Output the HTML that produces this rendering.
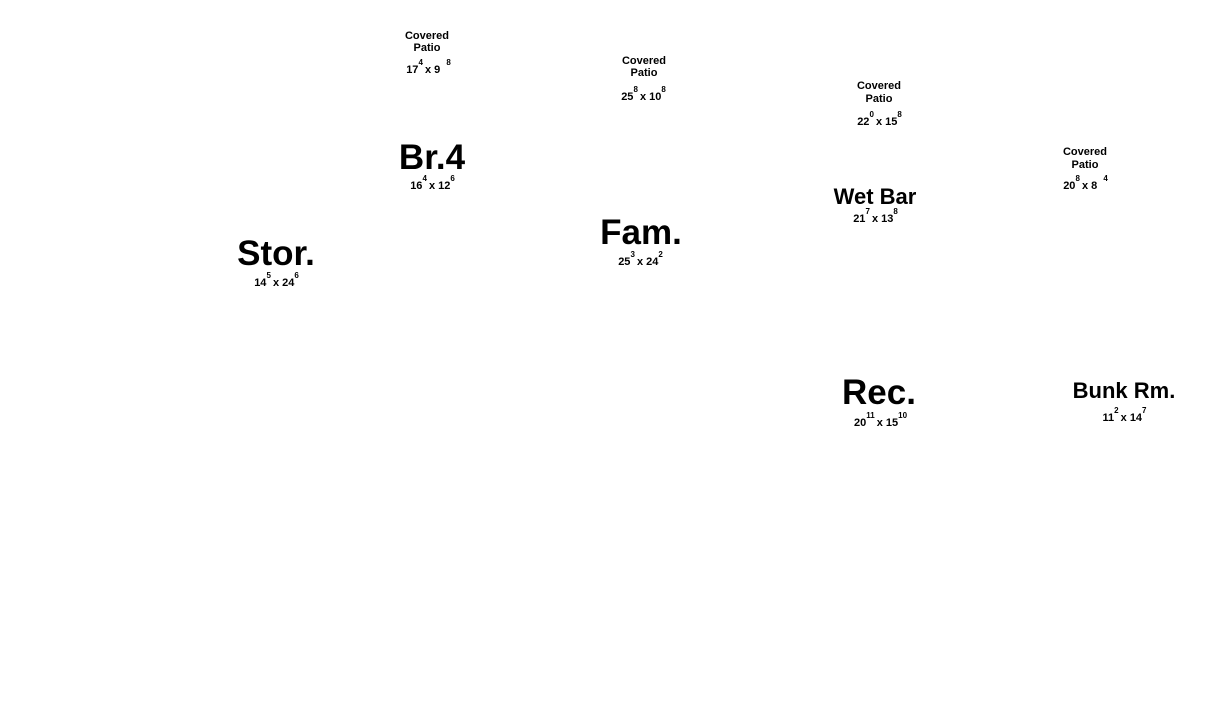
<!DOCTYPE html>
<html><head><meta charset="utf-8"><style>
body{margin:0;width:1223px;height:726px;background:#fff;position:relative;overflow:hidden;font-family:"Liberation Sans",Arial,sans-serif;font-weight:bold;color:#000}
.l{position:absolute;transform:translateX(-50%);white-space:nowrap;line-height:1;text-align:center}
.s{font-size:11px}
.d{font-size:11px;}
.d i{font-style:normal;font-size:8px;position:relative;top:-8px;margin-right:-1px}
.b{font-size:35px}
.m{font-size:22px}
</style></head><body>
<div class="l s" style="left:427px;top:31px">Covered</div>
<div class="l s" style="left:427px;top:43px">Patio</div>
<div class="l d" style="left:428px;top:65px">17<i>4</i> x 9 &nbsp;<i>8</i></div>

<div class="l s" style="left:644px;top:56px">Covered</div>
<div class="l s" style="left:644px;top:68px">Patio</div>
<div class="l d" style="left:643px;top:92px">25<i>8</i> x 10<i>8</i></div>

<div class="l s" style="left:879px;top:81px">Covered</div>
<div class="l s" style="left:879px;top:94px">Patio</div>
<div class="l d" style="left:879px;top:117px">22<i>0</i> x 15<i>8</i></div>

<div class="l s" style="left:1085px;top:147px">Covered</div>
<div class="l s" style="left:1085px;top:160px">Patio</div>
<div class="l d" style="left:1085px;top:181px">20<i>8</i> x 8 &nbsp;<i>4</i></div>

<div class="l b" style="left:432px;top:140px">Br.4</div>
<div class="l d" style="left:432px;top:181px">16<i>4</i> x 12<i>6</i></div>

<div class="l b" style="left:641px;top:215px">Fam.</div>
<div class="l d" style="left:640px;top:257px">25<i>3</i> x 24<i>2</i></div>

<div class="l b" style="left:276px;top:236px">Stor.</div>
<div class="l d" style="left:276px;top:278px">14<i>5</i> x 24<i>6</i></div>

<div class="l m" style="left:875px;top:186px">Wet Bar</div>
<div class="l d" style="left:875px;top:214px">21<i>7</i> x 13<i>8</i></div>

<div class="l b" style="left:879px;top:375px">Rec.</div>
<div class="l d" style="left:880px;top:418px">20<i>11</i> x 15<i>10</i></div>

<div class="l m" style="left:1124px;top:380px">Bunk Rm.</div>
<div class="l d" style="left:1124px;top:413px">11<i>2</i> x 14<i>7</i></div>
</body></html>
